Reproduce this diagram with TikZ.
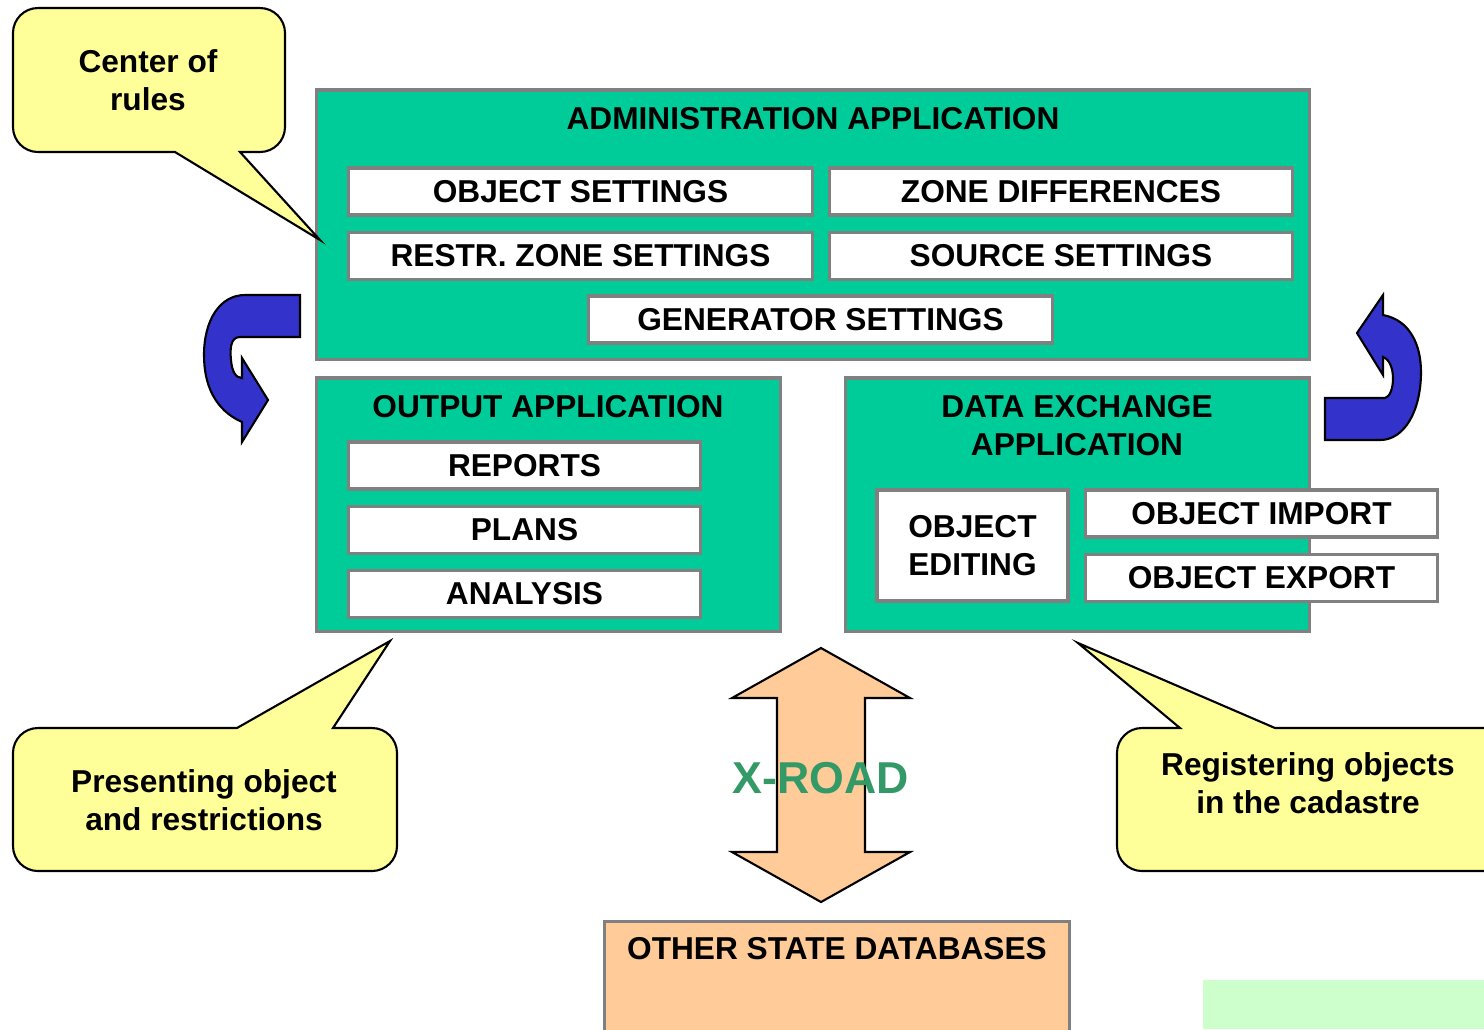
\documentclass[tikz,border=0pt]{standalone}
\usepackage{fontspec}
\setmainfont{Liberation Sans}
\usetikzlibrary{positioning}
\definecolor{appgreen}{HTML}{00CC99}
\definecolor{boxgray}{HTML}{808080}
\definecolor{calloutyellow}{HTML}{FFFF99}
\definecolor{arrowblue}{HTML}{3333CC}
\definecolor{peach}{HTML}{FFCC99}
\definecolor{roadgreen}{HTML}{339966}
\definecolor{palegreen}{HTML}{CCFFCC}
\tikzset{
    app_box/.style={rectangle, fill=appgreen, draw=boxgray, line width=0.9pt, inner sep=0pt},
    item/.style={rectangle, minimum height=0.47cm, inner sep=0pt, fill=white, draw=boxgray, line width=0.9pt, text centered, align=center},
    title/.style={text centered, align=center, inner sep=0pt},
    callout/.style={fill=calloutyellow, draw=black, line width=0.6pt},
    turn_arrow/.style={fill=arrowblue, draw=black, line width=0.6pt},
    road_arrow/.style={fill=peach, draw=black, line width=0.6pt},
}

\begin{document}
\begin{tikzpicture}[x=0.01cm, y=-0.01cm, node distance=0.14cm,
    font=\fontsize{9}{10.8}\selectfont\bfseries]
    \clip (0,0) rectangle (1484,1029);
    \fill[palegreen] (1203,980) rectangle (1484,1029);

    %%%%%%%%%%%%%%%%%%
    % ADMINISTRATION %
    %%%%%%%%%%%%%%%%%%
    \node (admin) [app_box, minimum width=9.92cm, minimum height=2.69cm] at (813,224.5) {};
    \node (admin_title) [title] at (813,119) {ADMINISTRATION APPLICATION};
    \node (obj_settings) [item, minimum width=4.63cm] at (580.5,191.5) {OBJECT SETTINGS};
    \node (zone_diff) [item, minimum width=4.63cm, right = of obj_settings] {ZONE DIFFERENCES};
    \node (restr_zone) [item, minimum width=4.63cm, below = of obj_settings] {RESTR. ZONE SETTINGS};
    \node (source) [item, minimum width=4.63cm, below = of zone_diff] {SOURCE SETTINGS};
    \node (generator) [item, minimum width=4.63cm] at (820.5,319.5) {GENERATOR SETTINGS};

    %%%%%%%%%%
    % OUTPUT %
    %%%%%%%%%%
    \node (output) [app_box, minimum width=4.63cm, minimum height=2.53cm] at (548.5,504.5) {};
    \node (output_title) [title] at (548,407) {OUTPUT APPLICATION};
    \node (reports) [item, minimum width=3.51cm] at (524.5,465.5) {REPORTS};
    \node (plans) [item, minimum width=3.51cm, below = of reports] {PLANS};
    \node (analysis) [item, minimum width=3.51cm, below = of plans] {ANALYSIS};

    %%%%%%%%%%%%%%%%%
    % DATA EXCHANGE %
    %%%%%%%%%%%%%%%%%
    \node (exchange) [app_box, minimum width=4.63cm, minimum height=2.53cm] at (1077.5,504.5) {};
    \node (exchange_title) [title] at (1077,426) {DATA EXCHANGE\\APPLICATION};
    \node (obj_import) [item, minimum width=3.51cm] at (1261.5,513.5) {OBJECT IMPORT};
    \node (obj_export) [item, minimum width=3.51cm, below = of obj_import] {OBJECT EXPORT};
    \node (obj_editing) [item, minimum width=1.91cm, minimum height=1.11cm] at (972.5,545.5) {OBJECT\\EDITING};

    % turning arrows
    \draw[turn_arrow] (300,295) -- (300,337) -- (240,337)
        .. controls (230,337) and (230,350) .. (231,360)
        .. controls (232,372) and (236,378) .. (242,378)
        -- (242,358) -- (268,400) -- (242,442) -- (242,422)
        .. controls (215,410) and (204,385) .. (204,355)
        .. controls (204,320) and (220,295) .. (245,295) -- cycle;
    \draw[turn_arrow] (1325,440) -- (1325,398) -- (1385,398)
        .. controls (1395,396) and (1397,362) .. (1383,357)
        -- (1383,375) -- (1357,333) -- (1383,295) -- (1383,315)
        .. controls (1410,320) and (1421,345) .. (1421,372)
        .. controls (1421,410) and (1405,440) .. (1380,440) -- cycle;

    % x-road
    \draw[road_arrow] (821,648) -- (910,698) -- (865,698) -- (865,852) -- (910,852)
        -- (821,902) -- (732,852) -- (777,852) -- (777,698) -- (732,698) -- cycle;
    \node (xroad) [title, text=roadgreen, font=\fontsize{12.7}{15}\selectfont\bfseries] at (821,778) {X-ROAD};

    \node (databases) [rectangle, fill=peach, draw=boxgray, line width=0.9pt, minimum width=4.64cm, minimum height=1.4cm, anchor=north] at (837,920) {};
    \node (databases_title) [title] at (837,949) {OTHER STATE DATABASES};

    % callouts
    \draw[callout] (320,240) -- (175,152) [rounded corners=0.25cm] -- (13,152) -- (13,8)
        -- (285,8) -- (285,152) [sharp corners] -- (240,152) -- cycle;
    \node (rules) [title] at (148,80) {Center of\\rules};
    \draw[callout] (390,641) -- (333,728) [rounded corners=0.25cm] -- (397,728) -- (397,871)
        -- (13,871) -- (13,728) [sharp corners] -- (237,728) -- cycle;
    \node (presenting) [title] at (204,800) {Presenting object\\and restrictions};
    \draw[callout] (1078,643) -- (1275,728) [rounded corners=0.25cm] -- (1510,728) -- (1510,871)
        -- (1117,871) -- (1117,728) [sharp corners] -- (1180,728) -- cycle;
    \node (registering) [title] at (1308,783.5) {Registering objects\\in the cadastre};
\end{tikzpicture}
\end{document}
